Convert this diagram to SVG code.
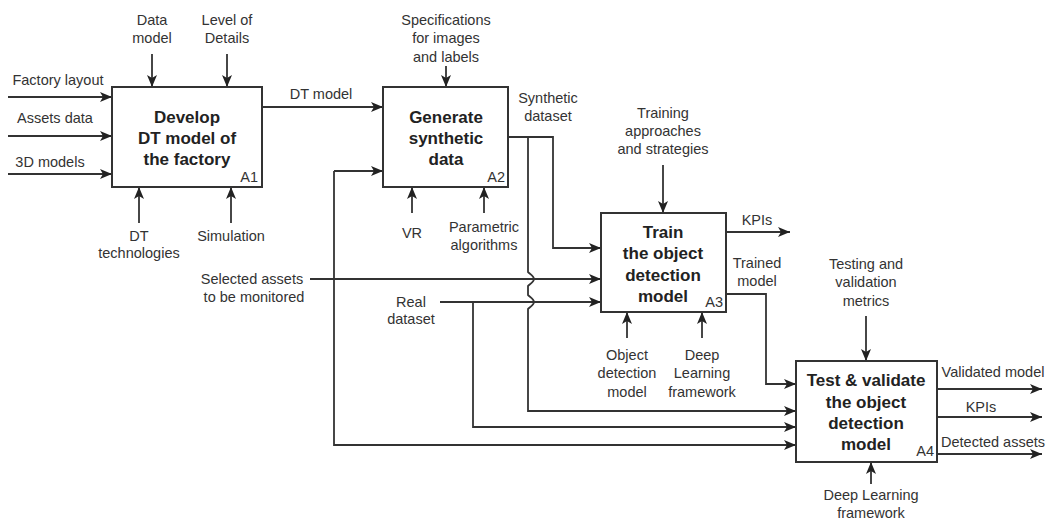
<svg xmlns="http://www.w3.org/2000/svg" width="1049" height="520" viewBox="0 0 1049 520">
<defs>
<marker id="arr" markerUnits="userSpaceOnUse" markerWidth="14" markerHeight="11" refX="12" refY="5" orient="auto">
<path d="M0,0 L12,5 L0,10 L3,5 z" fill="#222"/>
</marker>
<style>
.box{fill:#fff;stroke:#333;stroke-width:2}
.c{fill:none;stroke:#333;stroke-width:1.8}
.a{marker-end:url(#arr)}
text{font-family:"Liberation Sans",Arial,sans-serif;fill:#333}
.t{font-size:14.5px;text-anchor:middle}
.b{font-size:17px;font-weight:bold;text-anchor:middle;fill:#222}
.n{font-size:14.5px;text-anchor:end}
</style>
</defs>
<rect width="1049" height="520" fill="#fff"/>

<g id="connectors">
<path class="c a" d="M8,97 H112"/>
<path class="c a" d="M8,136 H112"/>
<path class="c a" d="M8,174 H112"/>
<path class="c a" d="M152,54 V87"/>
<path class="c a" d="M227,54 V87"/>
<path class="c a" d="M139,223 V187"/>
<path class="c a" d="M231,223 V187"/>
<path class="c a" d="M262,107 H383"/>
<path class="c a" d="M446,66 V87"/>
<path class="c a" d="M412,213 V187"/>
<path class="c a" d="M484,213 V187"/>
<path class="c a" d="M508,137 H553 V248 H601"/>
<path class="c a" d="M528,137 V272 C530,274 534,276 534,279 C534,282 530,284 528,286 V295 C530,297 534,299 534,302 C534,305 530,307 528,309 V411 H796"/>
<path class="c a" d="M310,279 H601"/>
<path class="c a" d="M334,171 H383"/>
<path class="c a" d="M334,171 V445 H796"/>
<path class="c a" d="M440,302 H601"/>
<path class="c a" d="M473,302 V427 H796"/>
<path class="c a" d="M663,165 V213"/>
<path class="c a" d="M726,232 H790"/>
<path class="c a" d="M726,294 H766 V384 H796"/>
<path class="c a" d="M627,338 V312"/>
<path class="c a" d="M702,338 V312"/>
<path class="c a" d="M866,316 V361"/>
<path class="c a" d="M937,389 H1042"/>
<path class="c a" d="M937,417 H1042"/>
<path class="c a" d="M937,454 H1042"/>
<path class="c a" d="M871,484 V462"/>
</g>

<g id="A1">
<rect class="box" x="112" y="87" width="150" height="100"/>
<text class="b" x="187" y="123">Develop</text>
<text class="b" x="187" y="144">DT model of</text>
<text class="b" x="187" y="165">the factory</text>
<text class="n" x="258" y="182">A1</text>
</g>
<g id="A2">
<rect class="box" x="383" y="87" width="125" height="100"/>
<text class="b" x="446" y="123">Generate</text>
<text class="b" x="446" y="144">synthetic</text>
<text class="b" x="446" y="165">data</text>
<text class="n" x="505" y="182">A2</text>
</g>
<g id="A3">
<rect class="box" x="601" y="213" width="125" height="99"/>
<text class="b" x="663" y="238">Train</text>
<text class="b" x="663" y="259">the object</text>
<text class="b" x="663" y="281">detection</text>
<text class="b" x="663" y="302">model</text>
<text class="n" x="723" y="307">A3</text>
</g>
<g id="A4">
<rect class="box" x="796" y="361" width="141" height="101"/>
<text class="b" x="866" y="386">Test &amp; validate</text>
<text class="b" x="866" y="408">the object</text>
<text class="b" x="866" y="429">detection</text>
<text class="b" x="866" y="450">model</text>
<text class="n" x="934" y="456">A4</text>
</g>

<g id="labels">
<text class="t" x="152" y="25">Data</text>
<text class="t" x="152" y="43">model</text>
<text class="t" x="227" y="25">Level of</text>
<text class="t" x="227" y="43">Details</text>
<text class="t" x="58" y="85">Factory layout</text>
<text class="t" x="55" y="123">Assets data</text>
<text class="t" x="50" y="167">3D models</text>
<text class="t" x="321" y="99">DT model</text>
<text class="t" x="139" y="241">DT</text>
<text class="t" x="139" y="258">technologies</text>
<text class="t" x="231" y="241">Simulation</text>
<text class="t" x="446" y="25">Specifications</text>
<text class="t" x="446" y="43">for images</text>
<text class="t" x="446" y="62">and labels</text>
<text class="t" x="548" y="103">Synthetic</text>
<text class="t" x="548" y="121">dataset</text>
<text class="t" x="412" y="238">VR</text>
<text class="t" x="484" y="232">Parametric</text>
<text class="t" x="484" y="250">algorithms</text>
<text class="t" x="252" y="284">Selected assets</text>
<text class="t" x="254" y="302">to be monitored</text>
<text class="t" x="411" y="307">Real</text>
<text class="t" x="411" y="324">dataset</text>
<text class="t" x="663" y="118">Training</text>
<text class="t" x="663" y="136">approaches</text>
<text class="t" x="663" y="154">and strategies</text>
<text class="t" x="757" y="225">KPIs</text>
<text class="t" x="757" y="268">Trained</text>
<text class="t" x="757" y="286">model</text>
<text class="t" x="866" y="269">Testing and</text>
<text class="t" x="866" y="287">validation</text>
<text class="t" x="866" y="306">metrics</text>
<text class="t" x="627" y="360">Object</text>
<text class="t" x="627" y="378">detection</text>
<text class="t" x="627" y="397">model</text>
<text class="t" x="702" y="360">Deep</text>
<text class="t" x="702" y="378">Learning</text>
<text class="t" x="702" y="397">framework</text>
<text class="t" x="993" y="377">Validated model</text>
<text class="t" x="981" y="412">KPIs</text>
<text class="t" x="993" y="447">Detected assets</text>
<text class="t" x="871" y="500">Deep Learning</text>
<text class="t" x="871" y="518">framework</text>
</g>
</svg>
